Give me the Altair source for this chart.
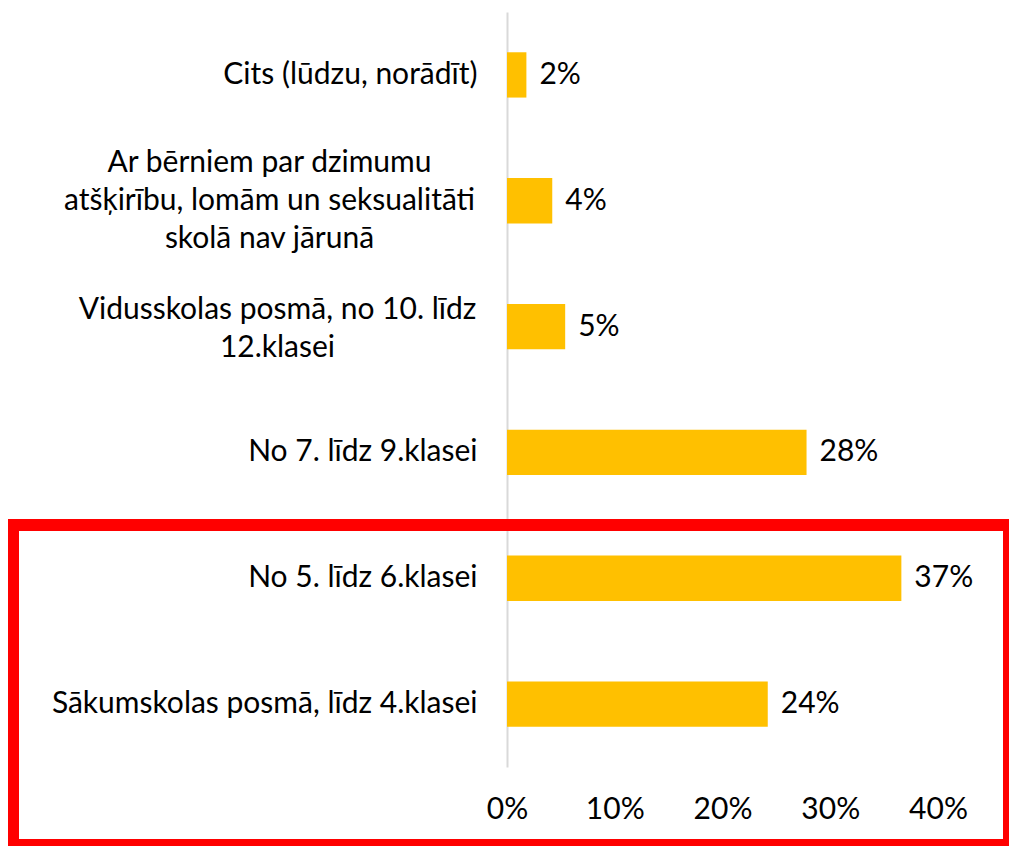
import altair as alt
import pandas as pd

categories = [
    "Cits (lūdzu, norādīt)",
    "Ar bērniem par dzimumu|atšķirību, lomām un seksualitāti|skolā nav jārunā",
    "Vidusskolas posmā, no 10. līdz|12.klasei",
    "No 7. līdz 9.klasei",
    "No 5. līdz 6.klasei",
    "Sākumskolas posmā, līdz 4.klasei",
]
values = [0.018, 0.042, 0.054, 0.278, 0.366, 0.242]
x_ticks = [0, 0.1, 0.2, 0.3, 0.4]

df = pd.DataFrame({"cat": categories, "val": values})

FONT = "Lato"
FS = 30

y_enc = alt.Y(
    "cat:N",
    sort=categories,
    scale=alt.Scale(paddingInner=0.64, paddingOuter=0.32),
    axis=alt.Axis(
        title=None,
        labelExpr="split(datum.label, '|')",
        labelFont=FONT,
        labelFontSize=FS,
        labelColor="#000000",
        labelLimit=0,
        labelLineHeight=38,
        labelAlign={"condition": {"test": "indexof(datum.value, '|') >= 0", "value": "center"}, "value": "right"},
        labelPadding={"condition": [
            {"test": "indexof(datum.value, 'Ar b') == 0", "value": 238},
            {"test": "indexof(datum.value, 'Vidus') == 0", "value": 230},
        ], "value": 30},
        labelOffset={"condition": [
            {"test": "indexof(datum.value, 'Ar b') == 0", "value": -38},
            {"test": "indexof(datum.value, 'Vidus') == 0", "value": -17},
        ], "value": 0},
        ticks=False,
        domain=True,
        domainColor="#D9D9D9",
        domainWidth=2,
        grid=False,
    ),
)

x_enc = alt.X(
    "val:Q",
    scale=alt.Scale(domain=[0, 0.4], nice=False, zero=True),
    axis=alt.Axis(
        title=None,
        values=x_ticks,
        format=".0%",
        labelFont=FONT,
        labelFontSize=FS,
        labelColor="#000000",
        labelPadding=27,
        labelFlush=False,
        labelOverlap=False,
        ticks=False,
        domain=False,
        grid=False,
    ),
)

bars = alt.Chart(df).mark_bar(color="#FFC000").encode(x=x_enc, y=y_enc)

labels = alt.Chart(df).mark_text(
    align="left", baseline="middle", dx=13, font=FONT, fontSize=FS, color="#000000"
).encode(x="val:Q", y=alt.Y("cat:N", sort=categories), text=alt.Text("val:Q", format=".0%"))

box = alt.Chart(pd.DataFrame({"k": [0]})).mark_rect(
    fill=None, stroke="#FF0000", strokeWidth=12
).encode(
    x=alt.value(-494), x2=alt.value(502), y=alt.value(513), y2=alt.value(833)
)

chart = alt.layer(bars, labels, box).properties(
    width=431,
    height=755,
    autosize=alt.AutoSizeParams(type="none"),
    padding={"left": 499, "top": 4, "right": 71, "bottom": 79},
    background="#FFFFFF",
).configure_view(stroke=None)

chart.save("out.html", embed_options={"renderer": "svg", "actions": False})
